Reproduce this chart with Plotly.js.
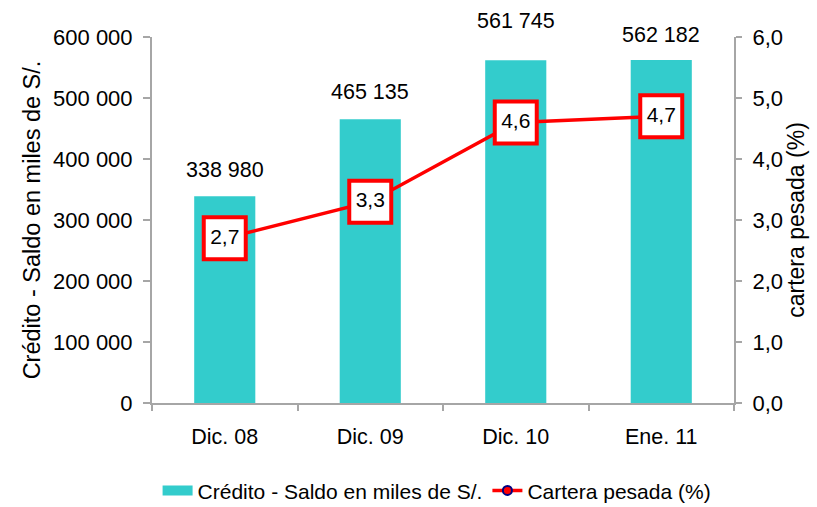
<!DOCTYPE html>
<html>
<head>
<meta charset="utf-8">
<script src="https://cdn.plot.ly/plotly-3.0.1.min.js"></script>
<style>html,body{margin:0;padding:0;background:#fff;}#chart{width:817px;height:507px;}</style>
</head>
<body>
<div id="chart"></div>
<script>
// Data
const categories = ['Dic. 08', 'Dic. 09', 'Dic. 10', 'Ene. 11'];
const creditoSaldo = [338980, 465135, 561745, 562182];
const carteraPesada = [2.7, 3.3, 4.6, 4.7];
const leftTickVals = [0, 100000, 200000, 300000, 400000, 500000, 600000];
const rightTickVals = [0, 1, 2, 3, 4, 5, 6];
const seriesNames = ['Crédito - Saldo en miles de S/.', 'Cartera pesada (%)'];

// Style (label lift in px above each bar top)
const labelLift = [26, 27, 39, 25];
const FONT = 'Liberation Sans, Arial, sans-serif';

function fmtThousands(n) {
  return String(n).replace(/\B(?=(\d{3})+(?!\d))/g, ' ');
}

const barTrace = {
  type: 'bar',
  x: categories,
  y: creditoSaldo,
  name: seriesNames[0],
  showlegend: false,
  marker: {color: '#33CCCC'},
  width: 0.42,
  yaxis: 'y',
  hoverinfo: 'skip'
};

const lineTrace = {
  type: 'scatter',
  mode: 'lines+markers+text',
  x: categories,
  y: carteraPesada,
  yaxis: 'y2',
  name: seriesNames[1],
  showlegend: false,
  line: {color: '#FF0000', width: 3.5},
  marker: {symbol: 'square', size: 42, color: '#FFFFFF', line: {color: '#FF0000', width: 4}},
  texttemplate: '%{y:.1f}',
  textposition: 'middle center',
  textfont: {family: FONT, size: 21, color: '#000'},
  cliponaxis: false,
  hoverinfo: 'skip'
};

// legend-only entries
const legendBar = {
  type: 'scatter',
  mode: 'lines',
  x: [null],
  y: [null],
  name: seriesNames[0],
  line: {color: '#33CCCC', width: 16}
};
const legendLine = {
  type: 'scatter',
  mode: 'lines+markers',
  x: [null],
  y: [null],
  yaxis: 'y2',
  name: seriesNames[1],
  line: {color: '#FF0000', width: 3.5},
  marker: {symbol: 'circle', size: 9, color: '#FF0000', line: {color: '#000080', width: 2}}
};

const annotations = categories.map((c, i) => ({
  x: c,
  y: creditoSaldo[i],
  xref: 'x',
  yref: 'y',
  text: fmtThousands(creditoSaldo[i]),
  showarrow: false,
  yanchor: 'middle',
  yshift: labelLift[i],
  font: {family: FONT, size: 21.5, color: '#000'}
}));

const axisLine = '#A6A6A6';

const layout = {
  width: 817,
  height: 507,
  margin: {l: 152, r: 83, t: 37, b: 104},
  paper_bgcolor: '#fff',
  plot_bgcolor: '#fff',
  separators: ', ',
  font: {family: FONT, size: 21, color: '#000'},
  showlegend: true,
  legend: {
    orientation: 'h',
    xref: 'container', yref: 'container',
    x: 0.535, xanchor: 'center',
    y: 0.032, yanchor: 'middle',
    font: {family: FONT, size: 21, color: '#000'},
    traceorder: 'normal',
    itemwidth: 30,
    bgcolor: 'rgba(0,0,0,0)'
  },
  xaxis: {
    type: 'category',
    showgrid: false,
    showline: true,
    linecolor: axisLine,
    linewidth: 2,
    ticks: 'outside',
    tickson: 'boundaries',
    ticklen: 6,
    tickwidth: 2,
    tickcolor: axisLine,
    ticklabelstandoff: 13,
    tickfont: {family: FONT, size: 21.5, color: '#000'},
    zeroline: false,
    fixedrange: true
  },
  yaxis: {
    range: [0, 600000],
    tickvals: leftTickVals,
    tickformat: ',d',
    showgrid: false,
    showline: true,
    linecolor: axisLine,
    linewidth: 2,
    ticks: 'outside',
    ticklen: 7,
    tickwidth: 2,
    tickcolor: axisLine,
    ticklabelstandoff: 6,
    tickfont: {family: FONT, size: 22, color: '#000'},
    zeroline: false,
    title: {text: seriesNames[0], font: {family: FONT, size: 23.5, color: '#000'}, standoff: 6},
    automargin: false,
    fixedrange: true
  },
  yaxis2: {
    overlaying: 'y',
    side: 'right',
    range: [0, 6],
    tickvals: rightTickVals,
    tickformat: '.1f',
    showgrid: false,
    showline: true,
    linecolor: axisLine,
    linewidth: 2,
    ticks: 'outside',
    ticklen: 6,
    tickwidth: 2,
    tickcolor: axisLine,
    ticklabelstandoff: 6,
    tickfont: {family: FONT, size: 22, color: '#000'},
    zeroline: false,
    title: {text: 'cartera pesada (%)', font: {family: FONT, size: 23, color: '#000'}, standoff: 5},
    automargin: false,
    fixedrange: true
  },
  annotations: annotations
};

Plotly.newPlot('chart', [barTrace, lineTrace, legendBar, legendLine], layout, {staticPlot: true, displayModeBar: false});
</script>
</body>
</html>
